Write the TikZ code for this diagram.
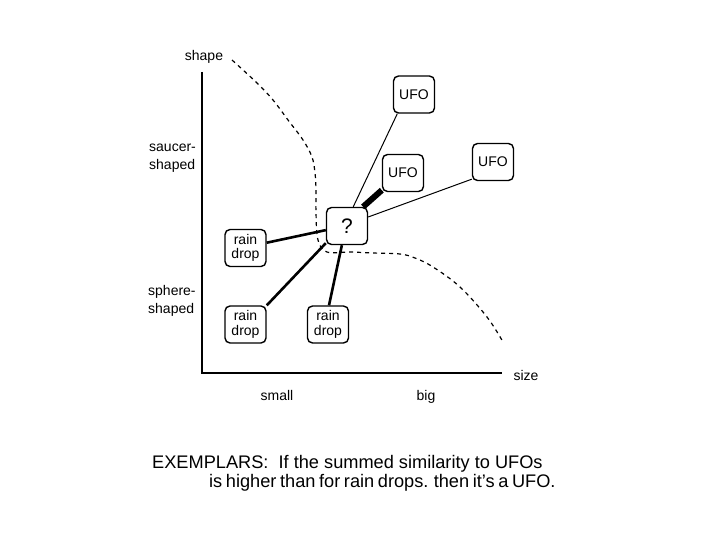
\documentclass[tikz,border=0pt]{standalone}
\usepackage{fontspec}
\setmainfont{Liberation Sans}
\begin{document}
\begin{tikzpicture}[x=1pt,y=-1pt,
  exbox/.style={draw,line width=1.4pt,rounded corners=5pt,minimum width=41pt,minimum height=37pt,inner sep=0pt,align=center,font=\fontsize{14}{14.5}\selectfont},
  lbl/.style={inner sep=0pt,font=\fontsize{14}{15}\selectfont},
  thinlink/.style={line width=1pt},
  medlink/.style={line width=2.6pt},
  thicklink/.style={line width=6pt},
  bound/.style={line width=1.2pt,dash pattern=on 4pt off 4pt}]
\useasboundingbox (0,0) rectangle (720,540);
% axes
\coordinate (ytop) at (202,72);
\coordinate (orig) at (202,373);
\coordinate (xend) at (502,373);
\draw[line width=1.2pt] (ytop) -- (orig) -- (xend);
% axis labels
\node[lbl,anchor=base] (shape) at (204,61) {shape};
\node[lbl,anchor=base west] (saucer) at (149,152) {saucer-};
\node[lbl,anchor=base west] (shaped1) at (149,170) {shaped};
\node[lbl,anchor=base west] (sphere) at (148,295) {sphere-};
\node[lbl,anchor=base west] (shaped2) at (148,313) {shaped};
\node[lbl,anchor=base] (size) at (526,380) {size};
\node[lbl,anchor=base] (small) at (277,400) {small};
\node[lbl,anchor=base] (big) at (426,400) {big};
% boundary
\draw[bound] plot[smooth,tension=0.6] coordinates {(232,60) (257,83) (273,100) (288,120) (303,140) (312,157) (315,173) (316,190) (316,213) (318,240) (327,252) (350,252) (373,253) (400,254) (415,258) (433,267) (460,287) (487,317) (503,342)};
% exemplars
\node[exbox] (u1) at (414,94.5) {UFO};
\node[exbox] (u2) at (403,173) {UFO};
\node[exbox] (u3) at (493,162) {UFO};
\node[exbox,fill=white,font=\fontsize{21}{22}\selectfont] (q) at (347,226) {?};
\node[exbox] (r1) at (245.5,248) {rain\\drop};
\node[exbox] (r2) at (245.5,324.5) {rain\\drop};
\node[exbox] (r3) at (328,324.5) {rain\\drop};
% similarity links
\draw[thinlink] (q.72) -- (u1.229);
\draw[thicklink] (q.50) -- (u2.219);
\draw[thinlink] (q.23) -- (u3.219);
\draw[medlink] (q.191) -- (r1.14);
\draw[medlink] (q.219) -- (r2.42);
\draw[medlink] (q.255) -- (r3.87);
% caption
\node[inner sep=0pt,anchor=base west,font=\fontsize{18.2}{20}\selectfont] (cap1) at (152,468) {EXEMPLARS:\ \ If the summed similarity to UFOs};
\node[inner sep=0pt,anchor=base west,font=\fontsize{18.2}{20}\selectfont] (cap2) at (209,487) {\spaceskip=3.6pt plus 1pt is higher than for rain drops. then it’s a UFO.};
\end{tikzpicture}
\end{document}
